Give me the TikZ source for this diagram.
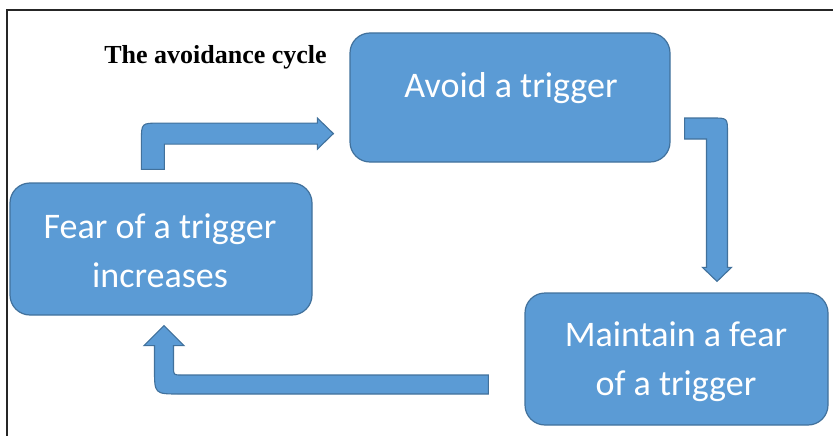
\documentclass[tikz,border=0pt]{standalone}
\usepackage{fontspec}
\setmainfont{Carlito}
\newfontfamily\titlefont{Liberation Serif}
\usetikzlibrary{calc}
\definecolor{boxfill}{HTML}{5B9BD5}
\definecolor{boxline}{HTML}{41719C}
\tikzset{
  stagebox/.style={draw=boxline, line width=1.2pt, fill=boxfill, rounded corners=20pt, inner sep=0pt},
  stagetext/.style={text=white, font=\fontsize{36}{49}\selectfont, align=center, inner sep=0pt, anchor=base},
  blockarrow/.style={draw=boxline, line width=1.1pt, fill=boxfill, line join=miter},
  frameline/.style={draw=black!85, line width=1.4pt},
  titletext/.style={font=\titlefont\bfseries\fontsize{26}{30}\selectfont, inner sep=0pt, anchor=base}
}
\begin{document}
\begin{tikzpicture}[x=1pt,y=-1pt]
\useasboundingbox (0,0) rectangle (833,436);
\draw[frameline] (7,437) -- (7,10) -- (834,10);

\node[titletext] (title) at (215.5,64) {The avoidance cycle};

% boxes
\node[stagebox, minimum width=320pt, minimum height=129pt] (avoid) at (510,97.5) {};
\node[stagebox, minimum width=302pt, minimum height=132pt] (fear) at (161,249) {};
\node[stagebox, minimum width=303pt, minimum height=132pt] (maint) at (676.5,359) {};

\node[stagetext] (avoidtxt) at (511,98) {Avoid a trigger};
\node[stagetext] (feartxt) at (160,287) {Fear of a trigger\\increases};
\node[stagetext] (mainttxt) at (676,395) {Maintain a fear\\of a trigger};

% arrow 1: fear -> avoid
\coordinate (a1s) at ($(fear.north west)+(143.5,-13)$);
\coordinate (a1t) at ($(avoid.south west)+(-16,-29)$);
\coordinate (k1) at (a1s |- a1t);
\path[blockarrow] ($(a1s)+(-11.5,0)$) -- ($(k1)+(-11.5,7.5)$)
  .. controls ($(k1)+(-11.5,-10.5)$) .. ($(k1)+(6.5,-10.5)$)
  -- ($(a1t)+(-16,-10.5)$) -- ($(a1t)+(-16,-15.5)$) -- (a1t)
  -- ($(a1t)+(-16,15.5)$) -- ($(a1t)+(-16,10.5)$)
  -- ($(k1)+(11.5,10.5)$) -- ($(a1s)+(11.5,0)$) -- cycle;

% arrow 2: avoid -> maintain
\coordinate (a2s) at ($(avoid.east)+(14,31)$);
\coordinate (a2t) at ($(maint.north)+(40.5,-11)$);
\coordinate (k2) at (a2t |- a2s);
\path[blockarrow] ($(a2s)+(0,-10.5)$) -- ($(k2)+(-4.5,-10.5)$)
  .. controls ($(k2)+(10.5,-10.5)$) .. ($(k2)+(10.5,4.5)$)
  -- ($(a2t)+(10.5,-14)$) -- ($(a2t)+(14.5,-14)$) -- (a2t)
  -- ($(a2t)+(-14.5,-14)$) -- ($(a2t)+(-10.5,-14)$)
  -- ($(k2)+(-10.5,10.5)$) -- ($(a2s)+(0,10.5)$) -- cycle;

% arrow 3: maintain -> fear
\coordinate (a3s) at ($(maint.west)+(-36,25.5)$);
\coordinate (a3t) at ($(fear.south)+(3,10)$);
\coordinate (k3) at (a3t |- a3s);
\path[blockarrow] ($(a3s)+(0,-9.5)$) -- ($(k3)+(17.5,-9.5)$)
  .. controls ($(k3)+(9.5,-9.5)$) .. ($(k3)+(9.5,-17.5)$)
  -- ($(a3t)+(9.5,20)$) -- ($(a3t)+(20,20)$) -- (a3t)
  -- ($(a3t)+(-20,20)$) -- ($(a3t)+(-9.5,20)$)
  -- ($(k3)+(-9.5,-15.5)$)
  .. controls ($(k3)+(-9.5,9.5)$) .. ($(k3)+(15.5,9.5)$)
  -- ($(a3s)+(0,9.5)$) -- cycle;
\end{tikzpicture}
\end{document}
